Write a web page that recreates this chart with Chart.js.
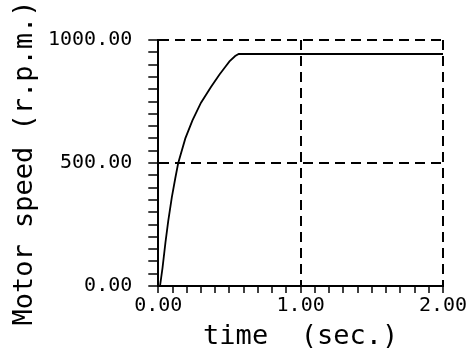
<!DOCTYPE html>
<html>
<head>
<meta charset="utf-8">
<script src="https://cdn.jsdelivr.net/npm/chart.js@4/dist/chart.umd.min.js"></script>
<style>
  html, body { margin: 0; padding: 0; background: #ffffff; }
  #wrap { width: 466px; height: 352px; }
</style>
</head>
<body>
<div id="wrap"><canvas id="c" width="466" height="352"></canvas></div>
<script>
// Data
const timeSec = [0.012, 0.03, 0.05, 0.07, 0.095, 0.12, 0.14, 0.19, 0.24, 0.30, 0.37, 0.43, 0.47, 0.50, 0.54, 0.565, 1.00, 2.00];
const speedRpm = [0, 75, 175, 265, 360, 440, 500, 600, 673, 745, 809, 860, 890, 913, 935, 943, 943, 943];
const xTickLabelsAt = [0, 1, 2];
const yTickLabelsAt = [0, 500, 1000];
const xTitle = 'time  (sec.)';
const yTitle = 'Motor speed (r.p.m.)';

const points = timeSec.map((t, i) => ({ x: t, y: speedRpm[i] }));
const FONT = "'DejaVu Sans Mono', monospace";
const near = (v, list) => list.some(a => Math.abs(v - a) < 1e-6);

new Chart(document.getElementById('c'), {
  type: 'line',
  data: {
    datasets: [{
      data: points,
      borderColor: '#000',
      borderWidth: 1.8,
      pointRadius: 0,
      tension: 0,
      fill: false
    }]
  },
  options: {
    responsive: false,
    animation: false,
    events: [],
    layout: { padding: { top: 40, right: 0, bottom: 8, left: 0 } },
    plugins: { legend: { display: false }, tooltip: { enabled: false } },
    scales: {
      x: {
        type: 'linear',
        min: 0, max: 2,
        afterFit: s => { s.paddingRight = 23; },
        ticks: {
          stepSize: 0.1,
          autoSkip: false,
          maxRotation: 0,
          padding: 3,
          color: '#000',
          font: { family: FONT, size: 20, lineHeight: 1 },
          callback: v => near(v, xTickLabelsAt) ? Number(v).toFixed(2) : ''
        },
        grid: {
          color: c => (c.tick && near(c.tick.value, xTickLabelsAt)) ? '#000' : 'rgba(0,0,0,0)',
          lineWidth: 2,
          tickColor: '#000',
          tickLength: 7,
          tickWidth: 1.5
        },
        border: { display: true, color: '#000', width: 2, dash: [10, 6] },
        title: {
          display: true,
          text: xTitle,
          color: '#000',
          font: { family: FONT, size: 27, lineHeight: 1 },
          padding: { top: 4, bottom: -6 }
        }
      },
      y: {
        type: 'linear',
        min: 0, max: 1000,
        ticks: {
          stepSize: 50,
          autoSkip: false,
          padding: 16,
          color: '#000',
          font: { family: FONT, size: 20, lineHeight: 1 },
          callback: v => near(v, yTickLabelsAt) ? Number(v).toFixed(2) : ''
        },
        grid: {
          color: c => (c.tick && near(c.tick.value, yTickLabelsAt)) ? '#000' : 'rgba(0,0,0,0)',
          lineWidth: 2,
          tickColor: '#000',
          tickLength: 10,
          tickWidth: 1.5
        },
        border: { display: true, color: '#000', width: 2, dash: [10, 6] },
        title: {
          display: true,
          text: yTitle,
          color: '#000',
          font: { family: FONT, size: 27, lineHeight: 1 },
          padding: { top: 11, bottom: -6 }
        }
      }
    }
  }
});
</script>
</body>
</html>
